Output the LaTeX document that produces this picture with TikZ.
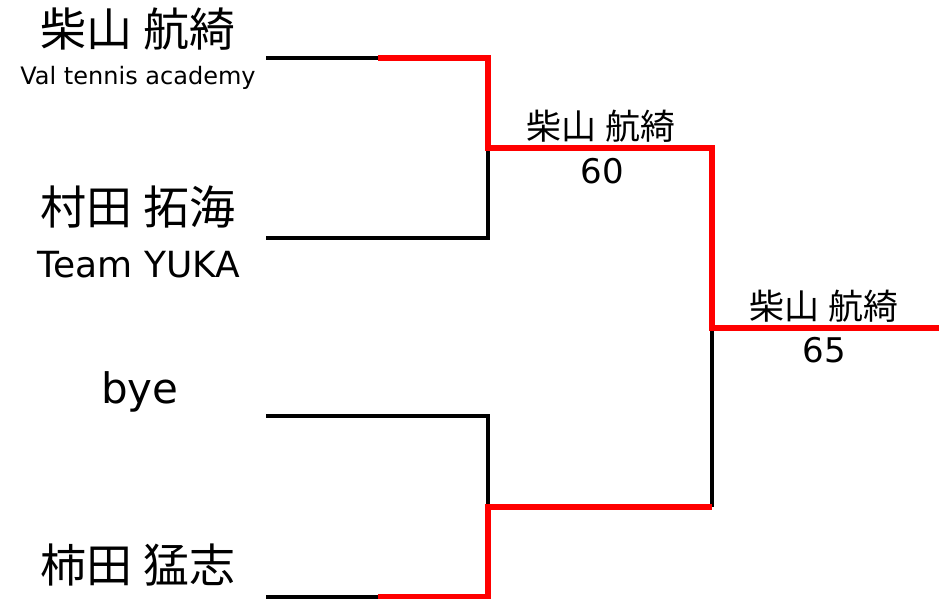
\documentclass[tikz,border=0pt]{standalone}
\usepackage{fontspec}
\setmainfont{DejaVu Sans}
\newfontfamily\jpfont{Noto Sans CJK JP}
\usetikzlibrary{positioning}

\begin{document}
\begin{tikzpicture}[
  x=1pt, y=-1pt,
  player/.style = {font={\jpfont\fontsize{46}{52}\selectfont}, inner sep=0pt},
  club/.style = {font=\fontsize{24}{28}\selectfont, inner sep=0pt},
  bigclub/.style = {font=\fontsize{36}{40}\selectfont, inner sep=0pt},
  byetext/.style = {font=\fontsize{42}{46}\selectfont, inner sep=0pt},
  winner/.style = {font={\jpfont\fontsize{35}{40}\selectfont}, inner sep=0pt},
  score/.style = {font=\fontsize{34}{40}\selectfont, inner sep=0pt},
  lost/.style = {line width=3.5pt, black},
  won/.style = {line width=6pt, red}
]
\useasboundingbox (0,0) rectangle (939,599);

% Players
\node[player] (shibayama) at (138,29) {柴山\hspace{0.26em}航綺};
\node[club] (val) at (138,78) {Val tennis academy};
\node[player] (murata) at (138,207) {村田\hspace{0.26em}拓海};
\node[bigclub] (yuka) at (139,265) {Team YUKA};
\node[byetext] (bye) at (140,392) {bye};
\node[player] (kakita) at (138,565) {柿田\hspace{0.26em}猛志};

% Bracket points
\coordinate (s1) at (266,58);
\coordinate (m1) at (378,58);
\coordinate (j1) at (488,58);
\coordinate (s2) at (266,238);
\coordinate (j2) at (488,238);
\coordinate (r1) at (488,148);
\coordinate (f1) at (712,148);
\coordinate (s3) at (266,416);
\coordinate (j3) at (488,416);
\coordinate (s4) at (266,597);
\coordinate (m4) at (378,597);
\coordinate (j4) at (488,597);
\coordinate (r2) at (488,507);
\coordinate (f2) at (712,507);
\coordinate (fin) at (712,328);
\coordinate (champ) at (939,328);

% Results
\node[winner] (semi) at (601,126) {柴山\hspace{0.26em}航綺};
\node[score] (semiscore) at (602,171) {60};
\node[winner] (final) at (824,306) {柴山\hspace{0.26em}航綺};
\node[score] (finalscore) at (824,350) {65};

% Lines
\draw[lost] (s1) -- (m1);
\draw[lost] (s2) -- (j2) -- (r1);
\draw[lost] (s3) -- (j3) -- (r2);
\draw[lost] (s4) -- (m4);
\draw[lost] (f2) -- (fin);
\draw[won] (m1) -- (j1) -- (r1) -- (f1) -- (fin) -- (champ);
\draw[won] (m4) -- (j4) -- (r2) -- (f2);

\end{tikzpicture}
\end{document}
